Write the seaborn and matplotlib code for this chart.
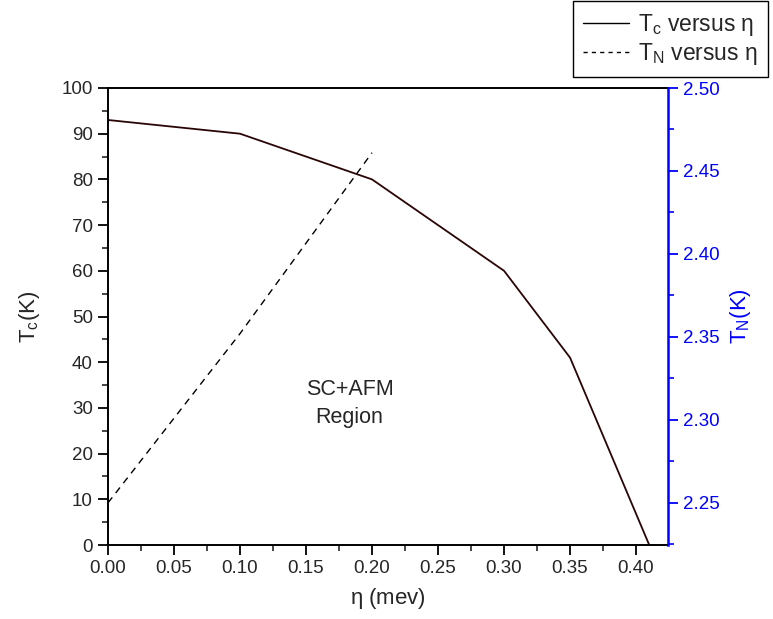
import numpy as np
import pandas as pd
import matplotlib
matplotlib.use("Agg")
import matplotlib.pyplot as plt
import seaborn as sns
from matplotlib.ticker import MultipleLocator

sns.set_theme(style="ticks")
plt.rcParams['font.family'] = ['Liberation Sans', 'DejaVu Sans']
plt.rcParams['mathtext.fontset'] = 'custom'
plt.rcParams['mathtext.rm'] = 'Liberation Sans'
plt.rcParams['mathtext.it'] = 'Liberation Sans'

# data
eta_tc = [0.00, 0.10, 0.20, 0.30, 0.35, 0.41]
tc = [93, 90, 80, 60, 41, 0]
eta_tn = [0.00, 0.10, 0.20]
tn = [2.25, 2.352, 2.461]

df_tc = pd.DataFrame({'eta': eta_tc, 'Tc': tc})
df_tn = pd.DataFrame({'eta': eta_tn, 'TN': tn})

fig = plt.figure(figsize=(7.73, 6.19), dpi=100)
ax = fig.add_axes([108 / 773, 1 - 545 / 619, (668 - 108) / 773, (545 - 88) / 619])

sns.lineplot(data=df_tc, x='eta', y='Tc', ax=ax, color='#2a0505', lw=1.3)
ax.set_xlim(0, 0.4242)
ax.set_ylim(0, 100)
ax.xaxis.set_major_locator(MultipleLocator(0.05))
ax.xaxis.set_minor_locator(MultipleLocator(0.025))
ax.yaxis.set_major_locator(MultipleLocator(10))
ax.yaxis.set_minor_locator(MultipleLocator(5))
ax.xaxis.set_major_formatter(plt.FuncFormatter(lambda v, p: f'{v:.2f}'))
ax.tick_params(axis='both', which='major', direction='out', length=7, width=1.3,
               labelsize=13.5, color='black', pad=4)
ax.tick_params(axis='both', which='minor', direction='out', length=4, width=1.2)
ax.set_xlabel(r'$\eta$ (mev)', fontsize=16, labelpad=6)
ax.set_ylabel(r'T$_\mathregular{c}$(K)', fontsize=16, labelpad=14)
for s in ['left', 'bottom', 'top']:
    ax.spines[s].set_linewidth(1.4)
    ax.spines[s].set_color('black')
ax.spines['right'].set_visible(False)

ax2 = ax.twinx()
sns.lineplot(data=df_tn, x='eta', y='TN', ax=ax2, color='black', lw=1.0,
             linestyle=(0, (5, 4)))
ax2.set_ylim(2.2246, 2.5)
ax2.set_xlim(0, 0.4242)
ax2.yaxis.set_major_locator(MultipleLocator(0.05))
ax2.yaxis.set_minor_locator(MultipleLocator(0.025))
ax2.yaxis.set_major_formatter(plt.FuncFormatter(lambda v, p: f'{v:.2f}'))
ax2.tick_params(axis='y', which='major', direction='out', length=7, width=1.3,
                labelsize=13.5, color='blue', labelcolor='blue', pad=4)
ax2.tick_params(axis='y', which='minor', direction='out', length=4, width=1.2, color='blue')
ax2.set_ylabel(r'T$_\mathregular{N}$(K)', fontsize=16, color='blue', labelpad=6)
ax2.spines['right'].set_color('blue')
ax2.spines['right'].set_linewidth(1.8)
for s in ['left', 'bottom', 'top']:
    ax2.spines[s].set_visible(False)

ax.text(0.183, 34.0, 'SC+AFM', ha='center', va='center', fontsize=15.5)
ax.text(0.183, 28.0, 'Region', ha='center', va='center', fontsize=15.5)

h1 = plt.Line2D([], [], color='black', lw=1.0)
h2 = plt.Line2D([], [], color='black', lw=1.0, linestyle=(0, (3, 3)))
leg = fig.legend([h1, h2], [r'T$_\mathregular{c}$ versus $\eta$', r'T$_\mathregular{N}$ versus $\eta$'],
                 loc='upper left', bbox_to_anchor=(573 / 773, 0.998), fontsize=16.5,
                 frameon=True, fancybox=False, edgecolor='black', framealpha=1,
                 handlelength=2.0, handletextpad=0.4, borderpad=0.45, labelspacing=0.15,
                 borderaxespad=0.0)
leg.get_frame().set_linewidth(1.0)

fig.savefig('out.png', dpi=100)
